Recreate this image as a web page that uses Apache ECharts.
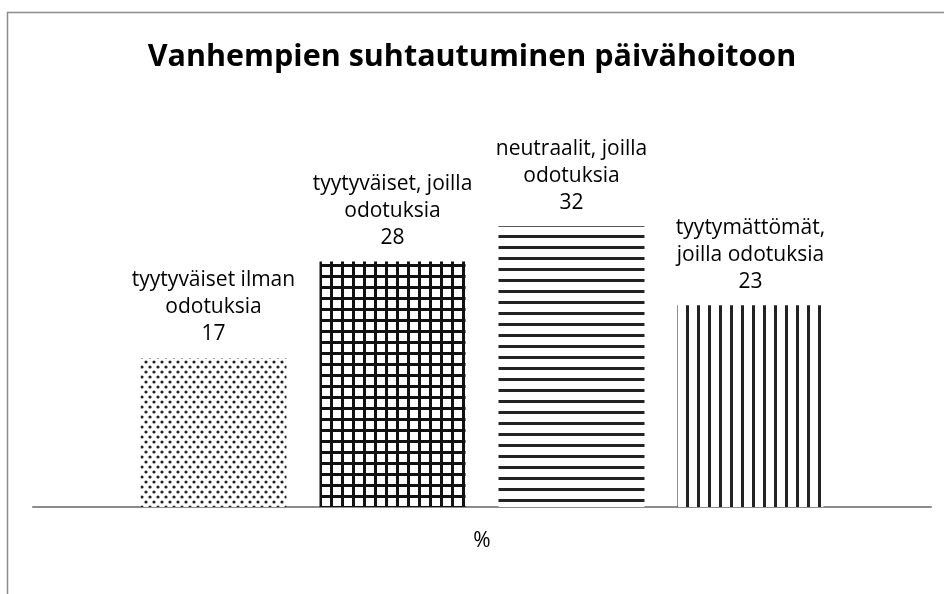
<!DOCTYPE html>
<html><head><meta charset="utf-8">
<script src="https://cdn.jsdelivr.net/npm/echarts@6/dist/echarts.min.js"></script>
<style>html,body{margin:0;padding:0;background:#fff}#c{width:944px;height:594px}</style>
</head><body><div id="c"></div>
<script>
const titleText = 'Vanhempien suhtautuminen päivähoitoon';
const categories = ['%'];
const seriesNames = ['tyytyväiset ilman\nodotuksia', 'tyytyväiset, joilla\nodotuksia', 'neutraalit, joilla\nodotuksia', 'tyytymättömät,\njoilla odotuksia'];
const seriesValues = [17, 28, 32, 23];

function makePattern(kind) {
  const c = document.createElement('canvas');
  const ctx = c.getContext('2d');
  if (kind === 'dots') {
    c.width = 8; c.height = 10;
    ctx.fillStyle = '#fff'; ctx.fillRect(0,0,8,10);
    ctx.fillStyle = '#222';
    [[2,2],[6,7]].forEach(p => { ctx.beginPath(); ctx.arc(p[0], p[1], 1.6, 0, Math.PI*2); ctx.fill(); });
  } else if (kind === 'grid') {
    c.width = 11; c.height = 11;
    ctx.fillStyle = '#fff'; ctx.fillRect(0,0,11,11);
    ctx.fillStyle = '#111';
    ctx.fillRect(0,0,11,3); ctx.fillRect(0,0,3,11);
  } else if (kind === 'h') {
    c.width = 11; c.height = 11;
    ctx.fillStyle = '#fff'; ctx.fillRect(0,0,11,11);
    ctx.fillStyle = '#222';
    ctx.fillRect(0,4,11,3);
  } else {
    c.width = 11; c.height = 11;
    ctx.fillStyle = '#fff'; ctx.fillRect(0,0,11,11);
    ctx.fillStyle = '#222';
    ctx.fillRect(4,0,3,11);
  }
  return { image: c, repeat: 'repeat' };
}
const patterns = ['dots', 'grid', 'h', 'v'];

const chart = echarts.init(document.getElementById('c'));
const series = seriesValues.map((v, i) => ({
  name: seriesNames[i],
  type: 'bar',
  data: [v],
  barWidth: 146,
  barGap: '22.6%',
  itemStyle: { color: makePattern(patterns[i]) },
  label: {
    show: true, position: 'top', distance: 10,
    formatter: p => p.seriesName + '\n' + p.value,
    fontFamily: 'Open Sans', fontSize: 21, lineHeight: 27, color: '#000', align: 'center'
  }
}));
chart.setOption({
  animation: false,
  title: { text: titleText, left: 'center', top: 37,
    textStyle: { fontFamily: 'Open Sans', fontWeight: 'bold', fontSize: 30.5, color: '#000' } },
  graphic: [{ type: 'rect', shape: { x: 7.5, y: 12.5, width: 2000, height: 2000 },
    style: { fill: 'none', stroke: '#8c8c8c', lineWidth: 1.5 }, silent: true }],
  grid: { left: 33, right: 13, top: 200, bottom: 87 },
  xAxis: { type: 'category', data: categories,
    axisLine: { lineStyle: { color: '#8c8c8c', width: 2 } }, axisTick: { show: false },
    axisLabel: { fontFamily: 'Open Sans', fontSize: 21, color: '#000', margin: 24 } },
  yAxis: { type: 'value', min: 0, max: 35, show: false, splitLine: { show: false } },
  series
});
</script></body></html>
